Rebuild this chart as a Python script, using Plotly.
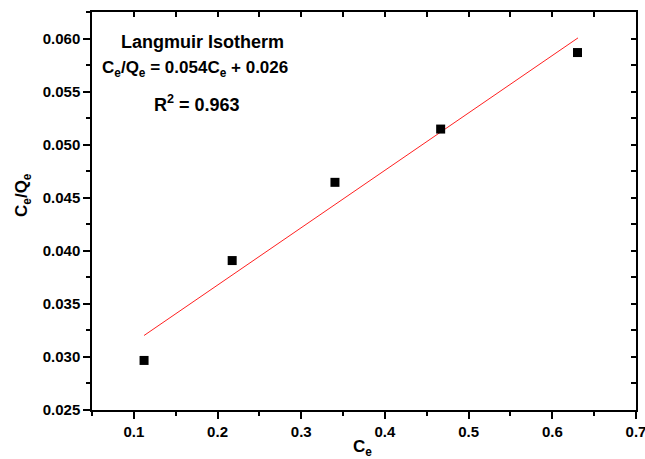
import plotly.graph_objects as go

# Data
ce = [0.1122, 0.2175, 0.3403, 0.4666, 0.6301]
ce_qe = [0.02967, 0.03908, 0.04645, 0.05147, 0.05868]
fit_x = [0.1122, 0.6307]
fit_y = [0.03202, 0.06006]

x_range = [0.05, 0.70001]
y_range = [0.025, 0.0625]

FONT = "Liberation Sans, Arial, Helvetica, sans-serif"
W, H = 645, 459
ML, MR, MT, MB = 92, 9, 12, 49

fig = go.Figure()
fig.add_trace(go.Scatter(x=fit_x, y=fit_y, mode="lines",
                         line=dict(color="#ff2020", width=1), hoverinfo="skip",
                         showlegend=False))
fig.add_trace(go.Scatter(x=ce, y=ce_qe, mode="markers",
                         marker=dict(symbol="square", size=9, color="black"),
                         showlegend=False))
# invisible trace to carry the mirrored (top/right) axes
fig.add_trace(go.Scatter(x=ce, y=ce_qe, mode="markers", xaxis="x2", yaxis="y2",
                         marker=dict(opacity=0), hoverinfo="skip", showlegend=False))

tickfont = dict(family=FONT, size=15, color="black", weight="bold")
axis_common = dict(showgrid=False, zeroline=False, showline=True, linecolor="black",
                   linewidth=1.5, ticks="outside", ticklen=7, tickwidth=1.5,
                   tickcolor="black", tickfont=tickfont, ticklabeloverflow="allow",
                   automargin=False)

pw = W - ML - MR
ph = H - MT - MB


def px_ann(text, x, y, size, angle=0):
    return dict(text=text, xref="paper", yref="paper",
                x=(x - ML) / pw, y=(H - y - MB) / ph,
                xanchor="center", yanchor="middle", showarrow=False,
                textangle=angle,
                font=dict(family=FONT, size=size, color="black", weight="bold"))


fig.update_layout(
    width=W, height=H,
    margin=dict(l=ML, r=MR, t=MT, b=MB),
    paper_bgcolor="white", plot_bgcolor="white",
    xaxis=dict(range=x_range, tick0=0, dtick=0.1, tickformat=".1f",
               minor=dict(dtick=0.05, ticklen=4, tickwidth=1.5, tickcolor="black", ticks="outside"),
               **axis_common),
    yaxis=dict(range=y_range, tick0=0, dtick=0.005, tickformat=".3f",
               minor=dict(dtick=0.0025, ticklen=4, tickwidth=1.5, tickcolor="black", ticks="outside"),
               **axis_common),
    xaxis2=dict(range=x_range, overlaying="x", side="top", showgrid=False, zeroline=False,
                showline=True, linecolor="black", linewidth=1.5, ticks="inside",
                ticklen=5, tickwidth=1.5, tickcolor="black", tick0=0, dtick=0.05,
                showticklabels=False, automargin=False),
    yaxis2=dict(range=y_range, overlaying="y", side="right", showgrid=False, zeroline=False,
                showline=True, linecolor="black", linewidth=1.5, ticks="inside",
                ticklen=5, tickwidth=1.5, tickcolor="black", tick0=0, dtick=0.0025,
                showticklabels=False, automargin=False),
    annotations=[
        px_ann("Langmuir Isotherm", 202, 42, 18),
        px_ann("C<sub>e</sub>/Q<sub>e</sub> = 0.054C<sub>e</sub> + 0.026", 195, 69, 17),
        px_ann("R<sup>2</sup> = 0.963", 197, 103, 18),
        px_ann("C<sub>e</sub>/Q<sub>e</sub>", 23, 195, 17, -90),
        px_ann("C<sub>e</sub>", 362, 448, 17),
    ],
    font=dict(family=FONT, size=16, color="black", weight="bold"),
)

fig.write_html("out.html")
